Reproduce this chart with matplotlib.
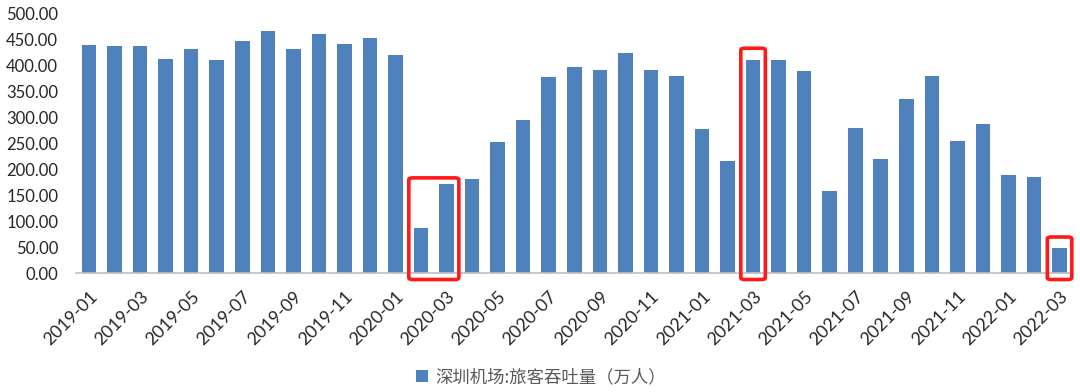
import matplotlib
matplotlib.use("Agg")
import matplotlib.pyplot as plt
from matplotlib.patches import FancyBboxPatch

months = [f"{y}-{m:02d}" for y in (2019, 2020, 2021) for m in range(1, 13)] + ["2022-01", "2022-02", "2022-03"]
values = [440, 438, 438, 414, 432, 412, 447, 468, 432, 461, 442, 453, 420,
          88, 172, 182, 254, 295, 378, 398, 392, 424, 392, 381,
          278, 217, 411, 411, 391, 158, 280, 221, 337, 380, 256, 287,
          190, 186, 49]
yticks = [0, 50, 100, 150, 200, 250, 300, 350, 400, 450, 500]
series_name = "深圳机场:旅客吞吐量（万人）"
highlight_groups = [(13, 14, 184), (26, 26, 434), (38, 38, 70)]

fig = plt.figure(figsize=(10.8, 3.92), dpi=100)
ax = fig.add_axes([0.0706, 0.3028, 0.9223, 0.6615])
x = list(range(len(months)))
bars = ax.bar(x, values, width=0.57, color="#4F81BD", label=series_name, zorder=2)
ax.set_xlim(-0.5, len(months) - 0.5)
ax.set_ylim(0, 500)
ax.set_yticks(yticks)
ax.set_yticklabels([f"{v:.2f}" for v in yticks], fontfamily="Lato", fontsize=12, color="#262626")
ax.set_xticks(x[::2])
ax.set_xticklabels(months[::2], rotation=45, ha="right", rotation_mode="anchor",
                   fontfamily="Lato", fontsize=12.8, color="#262626")
ax.tick_params(axis="y", length=0, pad=13)
ax.tick_params(axis="x", length=0, pad=11)
for s in ("top", "right", "left"):
    ax.spines[s].set_visible(False)
ax.spines["bottom"].set_color("#BFBFBF")
ax.spines["bottom"].set_linewidth(1.2)

for i0, i1, top in highlight_groups:
    x0 = i0 - 0.48
    x1 = i1 + 0.48
    y0 = -12
    p = FancyBboxPatch((x0, y0), x1 - x0, top - y0,
                       boxstyle="round,pad=0,rounding_size=0.15",
                       mutation_aspect=25,
                       fill=False, edgecolor="#FF1A1A", linewidth=2.6,
                       clip_on=False, zorder=5)
    ax.add_patch(p)

leg = fig.legend(handles=[bars], labels=[series_name], loc="center",
                 bbox_to_anchor=(541 / 1080, 1 - 377 / 392), frameon=False,
                 prop={"family": ["Noto Sans CJK SC", "DejaVu Sans"], "size": 12.5},
                 handlelength=0.7, handleheight=0.7, handletextpad=0.4)
for t in leg.get_texts():
    t.set_color("#595959")

fig.savefig("out.png", dpi=100)
